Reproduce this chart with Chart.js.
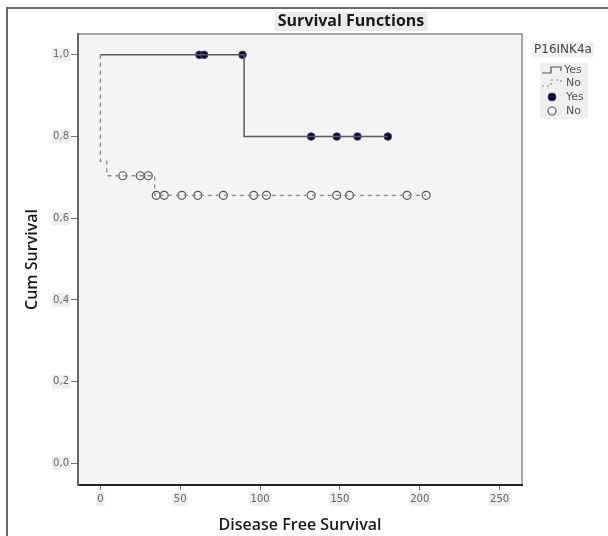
<!DOCTYPE html>
<html>
<head>
<meta charset="utf-8">
<script src="https://cdn.jsdelivr.net/npm/chart.js@4/dist/chart.umd.min.js"></script>
<style>
  html, body { margin: 0; padding: 0; background: #fff; }
  canvas { display: block; }
</style>
</head>
<body>
<canvas id="km-chart" width="608" height="536"></canvas>
<script>
// axis ticks
const xTicks = [0, 50, 100, 150, 200, 250];
const yTicks = [0, 0.2, 0.4, 0.6, 0.8, 1.0];
const yTickLabels = ['0,0', '0,2', '0,4', '0,6', '0,8', '1,0'];

// Kaplan-Meier steps, P16INK4a = Yes / No
const yesStepTimes = [0, 90, 180];
const yesStepSurv = [1.0, 0.8, 0.8];
const noStepTimes = [0, 0, 4, 34, 204];
const noStepSurv = [1.0, 0.739, 0.704, 0.656, 0.656];

// censored cases
const yesCensorTimes = [62, 65, 89, 132, 148, 161, 180];
const yesCensorSurv = [1.0, 1.0, 1.0, 0.8, 0.8, 0.8, 0.8];
const noCensorTimes = [14, 25, 30, 35, 40, 51, 61, 77, 96, 104, 132, 148, 156, 192, 204];
const noCensorSurv = [0.704, 0.704, 0.704, 0.656, 0.656, 0.656, 0.656, 0.656, 0.656, 0.656, 0.656, 0.656, 0.656, 0.656, 0.656];

const plotBg = '#f4f4f4';

function toPoints(xs, ys) {
  return xs.map((x, i) => ({ x, y: ys[i] }));
}

const frameAndLabels = {
  id: 'frameAndLabels',
  beforeDraw(chart) {
    const { ctx, chartArea: a } = chart;
    ctx.save();
    ctx.fillStyle = '#ffffff';
    ctx.fillRect(0, 0, chart.width, chart.height);
    // outer frame
    ctx.strokeStyle = '#6a6a6a';
    ctx.lineWidth = 2;
    ctx.beginPath();
    ctx.moveTo(7, chart.height);
    ctx.lineTo(7, 8);
    ctx.lineTo(chart.width, 8);
    ctx.stroke();
    // plot area
    ctx.fillStyle = plotBg;
    ctx.fillRect(a.left, a.top, a.right - a.left, a.bottom - a.top);
    ctx.strokeStyle = '#8a8a8a';
    ctx.lineWidth = 1.5;
    ctx.beginPath();
    ctx.moveTo(a.left, a.top);
    ctx.lineTo(a.right, a.top);
    ctx.lineTo(a.right, a.bottom);
    ctx.stroke();
    ctx.restore();
  },
  afterDraw(chart) {
    const { ctx } = chart;
    ctx.save();
    // title
    ctx.font = 'bold 16px "Open Sans"';
    ctx.textAlign = 'center';
    ctx.textBaseline = 'middle';
    const title = 'Survival Functions';
    const tw = ctx.measureText(title).width;
    ctx.fillStyle = '#ececec';
    ctx.fillRect(351 - tw / 2 - 3, 12, tw + 6, 19);
    ctx.fillStyle = '#1a1a1a';
    ctx.fillText(title, 351, 21.5);

    // legend
    ctx.font = '12px "DejaVu Sans"';
    const lt = 'P16INK4a';
    const lw = ctx.measureText(lt).width;
    ctx.fillStyle = '#f0f0f0';
    ctx.fillRect(563 - lw / 2 - 2, 42, lw + 4, 15);
    ctx.fillRect(540, 63, 48, 56);
    ctx.fillStyle = '#444';
    ctx.fillText(lt, 563, 49.5);

    ctx.strokeStyle = '#555';
    ctx.lineWidth = 1.2;
    ctx.beginPath();
    ctx.moveTo(542, 73); ctx.lineTo(551, 73); ctx.lineTo(551, 67);
    ctx.lineTo(561, 67); ctx.lineTo(561, 71);
    ctx.stroke();
    ctx.strokeStyle = '#888';
    ctx.setLineDash([2, 3]);
    ctx.beginPath();
    ctx.moveTo(542, 86); ctx.lineTo(551, 86); ctx.lineTo(551, 80);
    ctx.lineTo(561, 80); ctx.lineTo(561, 84);
    ctx.stroke();
    ctx.setLineDash([]);

    ctx.beginPath();
    ctx.arc(552, 97, 4, 0, Math.PI * 2);
    ctx.fillStyle = '#0b0b2e';
    ctx.fill();
    ctx.strokeStyle = '#3a3a9a';
    ctx.lineWidth = 1;
    ctx.stroke();
    ctx.beginPath();
    ctx.arc(552, 111, 4, 0, Math.PI * 2);
    ctx.fillStyle = '#f8f8f8';
    ctx.fill();
    ctx.strokeStyle = '#555';
    ctx.lineWidth = 1.2;
    ctx.stroke();

    ctx.font = '11px "DejaVu Sans"';
    ctx.textAlign = 'left';
    ctx.fillStyle = '#555';
    ctx.fillText('Yes', 564, 70);
    ctx.fillText('No', 566, 83);
    ctx.fillText('Yes', 566, 97);
    ctx.fillText('No', 566, 111);
    ctx.restore();
  },
};

const tickFont = { family: '"DejaVu Sans"', size: 10 };

new Chart(document.getElementById('km-chart'), {
  type: 'scatter',
  data: {
    datasets: [
      {
        label: 'Yes',
        type: 'line',
        data: toPoints(yesStepTimes, yesStepSurv),
        stepped: 'before',
        borderColor: '#5a5a5a',
        borderWidth: 1.5,
        pointRadius: 0,
        fill: false,
      },
      {
        label: 'No',
        type: 'line',
        data: toPoints(noStepTimes, noStepSurv),
        stepped: 'before',
        borderColor: '#8a8a8a',
        borderWidth: 1.3,
        borderDash: [4, 4],
        pointRadius: 0,
        fill: false,
      },
      {
        label: 'No censored',
        data: toPoints(noCensorTimes, noCensorSurv),
        pointRadius: 4,
        pointBackgroundColor: plotBg,
        pointBorderColor: '#555',
        pointBorderWidth: 1.2,
        showLine: false,
      },
      {
        label: 'Yes censored',
        data: toPoints(yesCensorTimes, yesCensorSurv),
        pointRadius: 3.8,
        pointBackgroundColor: '#0b0b2e',
        pointBorderColor: '#3a3a9a',
        pointBorderWidth: 1,
        showLine: false,
      },
    ],
  },
  options: {
    responsive: false,
    animation: false,
    layout: { padding: { left: 10, right: 86, top: 34, bottom: 0 } },
    plugins: {
      legend: { display: false },
      title: { display: false },
      tooltip: { enabled: false },
    },
    scales: {
      x: {
        type: 'linear',
        min: -14,
        max: 264,
        afterBuildTicks: (scale) => {
          scale.ticks = xTicks.map((value) => ({ value }));
        },
        afterFit: (scale) => {
          scale.height = 51;
        },
        ticks: {
          font: tickFont,
          color: '#666',
          padding: 3,
          maxRotation: 0,
          showLabelBackdrop: true,
          backdropColor: '#eeeeee',
          backdropPadding: 1,
        },
        grid: { drawOnChartArea: false, drawTicks: true, tickLength: 5, tickColor: '#777' },
        border: { display: true, color: '#222', width: 2 },
        title: {
          display: true,
          text: 'Disease Free Survival',
          font: { family: '"Open Sans"', size: 16, weight: '600' },
          color: '#1a1a1a',
          padding: { top: 0, bottom: 1 },
        },
      },
      y: {
        type: 'linear',
        min: -0.053,
        max: 1.051,
        afterBuildTicks: (scale) => {
          scale.ticks = yTicks.map((value) => ({ value }));
        },
        afterFit: (scale) => {
          scale.width = 68;
        },
        ticks: {
          font: tickFont,
          color: '#666',
          padding: 2,
          callback: (value) => yTickLabels[yTicks.findIndex((t) => Math.abs(t - value) < 1e-6)],
          showLabelBackdrop: true,
          backdropColor: '#eeeeee',
          backdropPadding: 1,
        },
        grid: { drawOnChartArea: false, drawTicks: true, tickLength: 7, tickColor: '#777' },
        border: { display: true, color: '#666', width: 2 },
        title: {
          display: true,
          text: 'Cum Survival',
          font: { family: '"Open Sans"', size: 16, weight: '600' },
          color: '#1a1a1a',
          padding: { top: 13, bottom: 0 },
        },
      },
    },
  },
  plugins: [frameAndLabels],
});
</script>
</body>
</html>
